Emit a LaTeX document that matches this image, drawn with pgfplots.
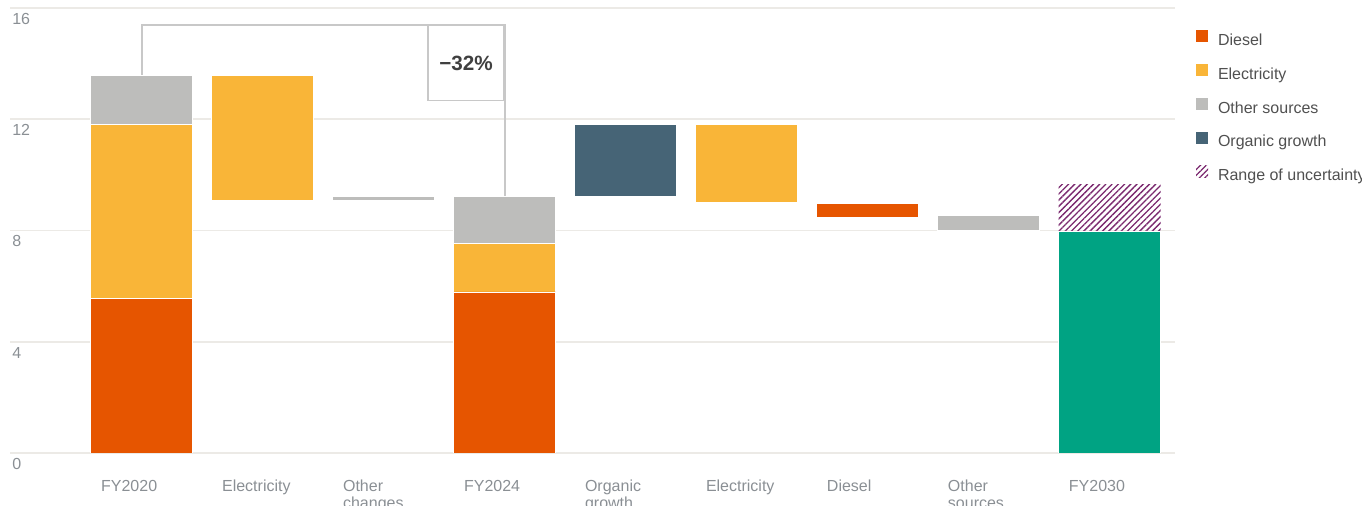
\documentclass[border=0pt]{standalone}
\usepackage{fontspec}
\setmainfont{Liberation Sans}
\usepackage{pgfplots}
\pgfplotsset{compat=1.18}
\usetikzlibrary{patterns.meta}
\definecolor{dieselc}{RGB}{230,85,0}
\definecolor{elecc}{RGB}{249,181,56}
\definecolor{otherc}{RGB}{189,189,187}
\definecolor{orgc}{RGB}{70,100,118}
\definecolor{greenc}{RGB}{0,163,131}
\definecolor{hatchc}{RGB}{122,40,110}
\definecolor{gridc}{RGB}{236,234,230}
\definecolor{tickc}{RGB}{138,143,148}
\definecolor{legc}{RGB}{80,80,80}
\definecolor{bracketc}{RGB}{200,200,200}
\definecolor{pctc}{RGB}{64,64,64}
\begin{document}
\begin{tikzpicture}
\begin{axis}[
  at={(7.5pt,39.75pt)}, anchor=south west,
  scale only axis, width=873.75pt, height=333.75pt,
  xmin=-1.09, xmax=8.54, ymin=0, ymax=16,
  ybar stacked, bar width=76.5pt,
  ytick={0,4,8,12,16}, yticklabels={0,4,8,12,16},
  xtick={0,1,2,3,4,5,6,7,8},
  xticklabels={FY2020,Electricity,{Other\\changes},FY2024,{Organic\\growth},Electricity,Diesel,{Other\\sources},FY2030},
  /pgf/number format/assume math mode=true,
  ymajorgrids, grid style={gridc, line width=1.4pt},
  axis line style={draw=none}, major tick length=0pt,
  tick label style={font=\fontsize{12}{12.5}\selectfont, text=tickc},
  xticklabel style={anchor=north west, align=left, inner sep=0pt, xshift=-30.75pt, yshift=-20.25pt},
  yticklabel style={anchor=north west, inner sep=0pt, xshift=1.5pt, yshift=-3.75pt},
  legend style={at={(rel axis cs:1,1)}, anchor=north west, xshift=15.75pt, yshift=-16.5pt,
    draw=none, fill=none, inner sep=0pt, outer sep=0pt, row sep=10.9pt, column sep=7.5pt,
    font=\fontsize{12}{14}\selectfont, text=legc,
    nodes={inner sep=0pt, outer sep=0pt, text height=9pt, text depth=3pt}},
  legend cell align=left,
  legend image code/.code={\path[#1, draw=none] (0pt,-0.5pt) rectangle (9pt,8.5pt);},
]
% invisible base
\addplot[forget plot, draw=none, fill=none] coordinates {(0,0) (1,9.1) (2,9.1) (3,0) (4,9.24) (5,9.02) (6,8.46) (7,8.02) (8,0)};
% Diesel
\addplot[forget plot, fill=dieselc, draw=white, line width=0.6pt] coordinates {(0,5.57) (1,0) (2,0) (3,5.79) (4,0) (5,0) (6,0.51) (7,0) (8,0)};
% Electricity
\addplot[forget plot, fill=elecc, draw=white, line width=0.6pt] coordinates {(0,6.23) (1,4.46) (2,0) (3,1.76) (4,0) (5,2.78) (6,0) (7,0) (8,0)};
% Other sources
\addplot[forget plot, fill=otherc, draw=white, line width=0.6pt] coordinates {(0,1.76) (1,0) (2,0.14) (3,1.69) (4,0) (5,0) (6,0) (7,0.53) (8,0)};
% Organic growth
\addplot[forget plot, fill=orgc, draw=white, line width=0.6pt] coordinates {(0,0) (1,0) (2,0) (3,0) (4,2.56) (5,0) (6,0) (7,0) (8,0)};
% FY2030 target
\addplot[forget plot, fill=greenc, draw=white, line width=0.6pt] coordinates {(0,0) (1,0) (2,0) (3,0) (4,0) (5,0) (6,0) (7,0) (8,7.98)};
% Range of uncertainty
\addplot[forget plot, pattern={Lines[angle=45,distance=3.3pt,line width=1pt]}, pattern color=hatchc, draw=none] coordinates {(0,0) (1,0) (2,0) (3,0) (4,0) (5,0) (6,0) (7,0) (8,1.66)};

\draw[bracketc, line width=1.1pt] (axis cs:0,13.56) -- (axis cs:0,15.39) -- (axis cs:3,15.39) -- (axis cs:3,9.24);
\node[draw=bracketc, line width=1.1pt, fill=white, anchor=north east, minimum width=57pt, minimum height=56.25pt, inner sep=0pt, text=pctc, font=\fontsize{15.5}{16}\selectfont] at (axis cs:3,15.39) {\textbf{−32\%}};

\addlegendimage{fill=dieselc}
\addlegendimage{fill=elecc}
\addlegendimage{fill=otherc}
\addlegendimage{fill=orgc}
\addlegendimage{pattern={Lines[angle=45,distance=3pt,line width=0.9pt]}, pattern color=hatchc}
\legend{Diesel, Electricity, Other sources, Organic growth, Range of uncertainty}
\end{axis}
\pgfresetboundingbox
\path[use as bounding box] (0,0) rectangle (1021.5pt,379.5pt);
\end{tikzpicture}
\end{document}
